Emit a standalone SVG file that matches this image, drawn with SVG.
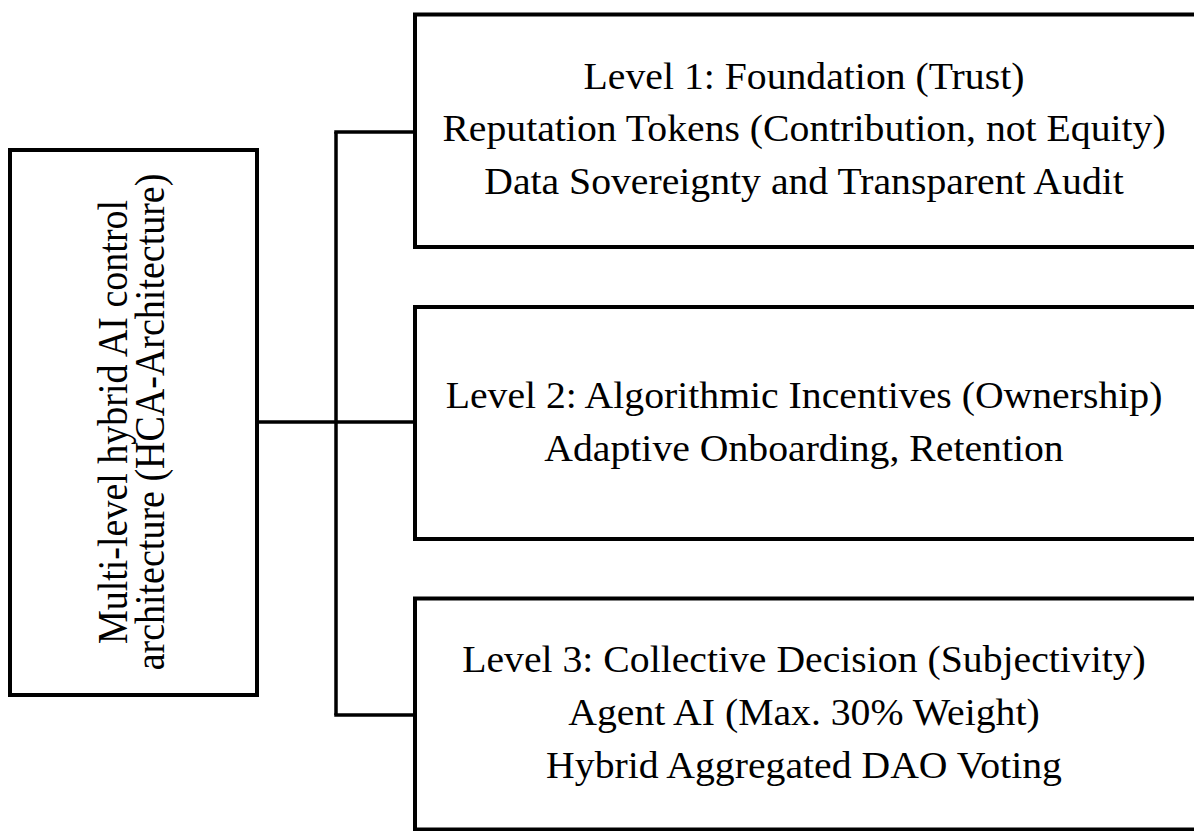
<svg xmlns="http://www.w3.org/2000/svg" width="1194" height="831" viewBox="0 0 1194 831">
  <style>
    .box { fill: #ffffff; stroke: #000000; stroke-width: 4; }
    .conn { fill: none; stroke: #000000; stroke-width: 3.5; }
    .t { font-family: "Liberation Serif", "Times New Roman", serif; font-size: 38px; fill: #000000; text-anchor: middle; }
    .tl { font-family: "Liberation Serif", "Times New Roman", serif; font-size: 38px; fill: #000000; text-anchor: middle; }
  </style>
  <rect width="1194" height="831" fill="#ffffff"/>
  <g id="connectors">
    <line class="conn" x1="259" y1="422" x2="415" y2="422"/>
    <line class="conn" x1="336" y1="132" x2="336" y2="715"/>
    <line class="conn" x1="334.25" y1="132" x2="415" y2="132"/>
    <line class="conn" x1="334.25" y1="715" x2="415" y2="715"/>
  </g>
  <g id="root">
    <rect class="box" x="10" y="150" width="247" height="545"/>
    <text class="tl" transform="translate(127,422) scale(1.13,1) rotate(-90)">Multi-level hybrid AI control</text>
    <text class="tl" transform="translate(164,422) scale(1.13,1) rotate(-90)">architecture (HCA-Architecture)</text>
  </g>
  <g id="level1">
    <rect class="box" x="415" y="14.5" width="800" height="232.5"/>
    <text class="t" transform="translate(804,89) scale(1.045,1)">Level 1: Foundation (Trust)</text>
    <text class="t" transform="translate(804,141) scale(1.045,1)">Reputation Tokens (Contribution, not Equity)</text>
    <text class="t" transform="translate(804,194) scale(1.045,1)">Data Sovereignty and Transparent Audit</text>
  </g>
  <g id="level2">
    <rect class="box" x="415" y="307" width="800" height="232"/>
    <text class="t" transform="translate(804,408) scale(1.045,1)">Level 2: Algorithmic Incentives (Ownership)</text>
    <text class="t" transform="translate(804,461) scale(1.045,1)">Adaptive Onboarding, Retention</text>
  </g>
  <g id="level3">
    <rect class="box" x="415" y="598.5" width="800" height="231"/>
    <text class="t" transform="translate(804,672) scale(1.045,1)">Level 3: Collective Decision (Subjectivity)</text>
    <text class="t" transform="translate(804,725) scale(1.045,1)">Agent AI (Max. 30% Weight)</text>
    <text class="t" transform="translate(804,778) scale(1.045,1)">Hybrid Aggregated DAO Voting</text>
  </g>
</svg>
